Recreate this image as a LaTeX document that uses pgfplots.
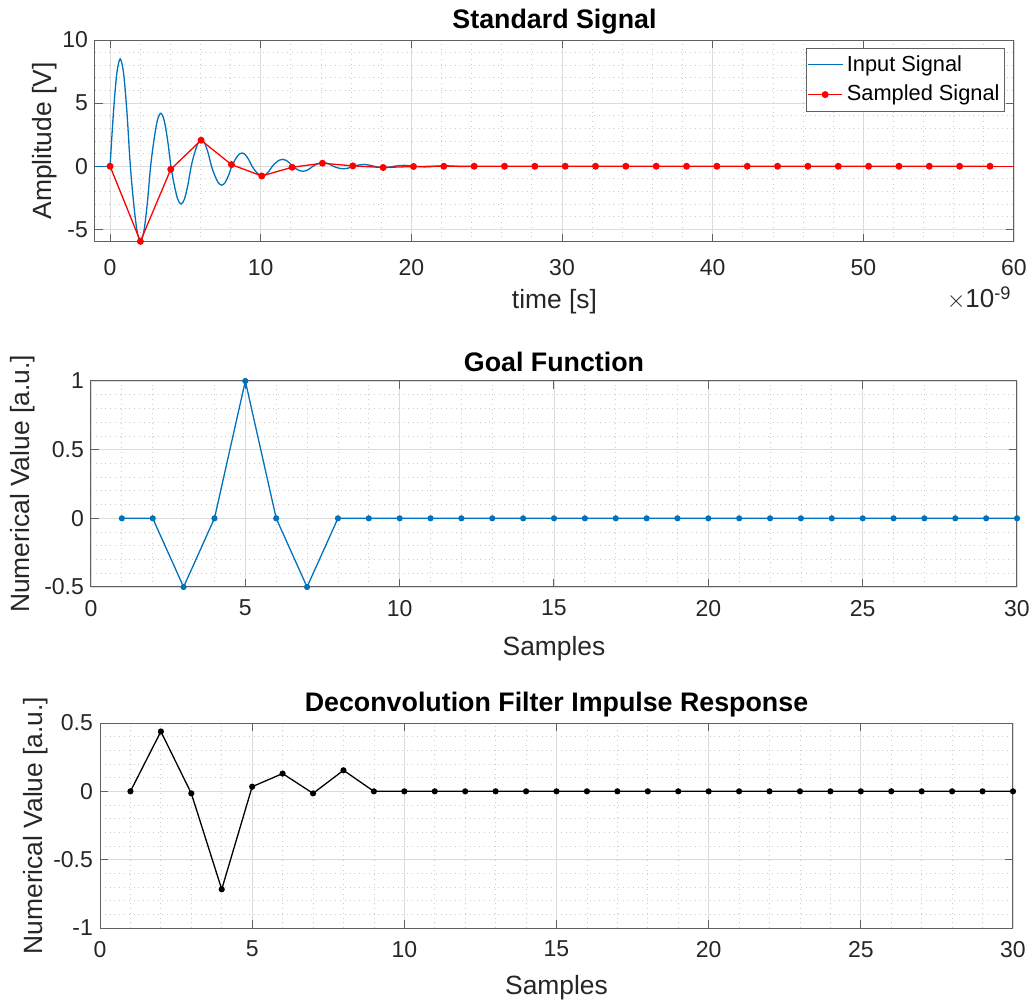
\documentclass[border=0pt]{standalone}
\usepackage{pgfplots}
\pgfplotsset{compat=1.18}
\usepackage{fontspec}
\setmainfont{Liberation Sans}
\definecolor{mblue}{rgb}{0,0.447,0.741}
\definecolor{axgray}{rgb}{0.38,0.38,0.38}
\definecolor{txt}{rgb}{0.15,0.15,0.15}
\pgfplotsset{
  mstyle/.style={
    scale only axis,
    axis line style={axgray, line width=0.5pt},
    every tick/.style={axgray, line width=0.5pt},
    major tick length=4pt,
    minor tick length=0pt,
    tick align=inside,
    xtick pos=both, ytick pos=both,
    grid=both,
    major grid style={black!14, line width=0.4pt},
    minor grid style={black!20, dotted, line width=0.4pt},
    ticklabel style={font=\fontsize{11.5}{13}\selectfont, text=txt},
    xlabel style={font=\fontsize{13.2}{15}\selectfont, text=txt},
    ylabel style={font=\fontsize{13.2}{15}\selectfont, text=txt},
    title style={font=\bfseries\fontsize{13.4}{15}\selectfont, text=black, yshift=-5pt},
    /pgf/number format/assume math mode=true,
    minor x tick num=4, minor y tick num=4,
  }
}
\begin{document}
\begin{tikzpicture}
% ---------- Top ----------
\begin{axis}[mstyle,
  at={(47.5pt,380.5pt)}, anchor=south west,
  width=459.5pt, height=101pt,
  xmin=-1, xmax=60, ymin=-6, ymax=10,
  xtick={0,10,...,60}, ytick={-5,0,5,10},
  clip=false,
  xticklabel style={yshift=-5pt},
  ylabel style={yshift=-4pt},
  title style={yshift=-1.5pt},
  title={Standard Signal},
  xlabel={time [s]}, ylabel={Amplitude [V]},
  legend style={at={(1,1)}, anchor=north east, xshift=-4.5pt, yshift=-4pt,
    draw=axgray, font=\fontsize{10.9}{12}\selectfont, inner xsep=0.5pt, inner ysep=1.5pt, row sep=1.5pt},
  legend cell align=left,
]
\addplot[mblue, line width=0.65pt, smooth, no marks] coordinates {
(0,0)(0.224,4.25)(0.449,7.36)(0.673,8.5)(0.898,7.36)(1.122,4.25)
(1.347,0)(1.571,-2.975)(1.796,-5.153)(2.02,-5.95)(2.244,-5.153)(2.469,-2.975)
(2.693,0)(2.918,2.1)(3.142,3.637)(3.367,4.2)(3.591,3.637)(3.816,2.1)
(4.04,0)(4.264,-1.5)(4.489,-2.598)(4.713,-3.0)(4.938,-2.598)(5.162,-1.5)
(5.387,0)(5.611,1.05)(5.836,1.819)(6.06,2.1)(6.284,1.819)(6.509,1.05)
(6.733,0)(6.958,-0.75)(7.182,-1.299)(7.407,-1.5)(7.631,-1.299)(7.856,-0.75)
(8.08,0)(8.304,0.525)(8.529,0.909)(8.753,1.05)(8.978,0.909)(9.202,0.525)
(9.427,0)(9.651,-0.385)(9.876,-0.667)(10.1,-0.77)(10.324,-0.667)(10.549,-0.385)
(10.773,0)(10.998,0.275)(11.222,0.476)(11.447,0.55)(11.671,0.476)(11.896,0.275)
(12.12,0)(12.344,-0.2)(12.569,-0.346)(12.793,-0.4)(13.018,-0.346)(13.242,-0.2)
(13.467,0)(13.691,0.145)(13.916,0.251)(14.14,0.29)(14.364,0.251)(14.589,0.145)
(14.813,0)(15.038,-0.1)(15.262,-0.173)(15.487,-0.2)(15.711,-0.173)(15.936,-0.1)
(16.16,0)(16.384,0.07)(16.609,0.121)(16.833,0.14)(17.058,0.121)(17.282,0.07)
(17.507,0)(17.731,-0.05)(17.956,-0.087)(18.18,-0.1)(18.404,-0.087)(18.629,-0.05)
(18.853,0)(19.078,0.035)(19.302,0.061)(19.527,0.07)(19.751,0.061)(19.976,0.035)
(20.2,0)(20.424,-0.025)(20.649,-0.043)(20.873,-0.05)(21.098,-0.043)(21.322,-0.025)
(21.547,0)(21.771,0.018)(21.996,0.03)(22.22,0.035)(22.444,0.03)(22.669,0.018)
(22.893,0)(23.118,-0.012)(23.342,-0.022)(23.567,-0.025)(23.791,-0.022)(24.016,-0.012)
(24.24,0)};
\addlegendentry{Input Signal}
\addplot[red, line width=0.65pt, mark=*, mark size=1.4pt] coordinates {
(0,0)(2.014,-5.95)(4.028,-0.24)(6.042,2.06)(8.056,0.13)(10.07,-0.77)
(12.084,-0.08)(14.098,0.24)(16.112,0.03)(18.126,-0.1)(20.14,-0.02)(22.154,0)
(24.168,0)(26.182,0)(28.196,0)(30.21,0)(32.224,0)(34.238,0)(36.252,0)(38.266,0)
(40.28,0)(42.294,0)(44.308,0)(46.322,0)(48.336,0)(50.35,0)(52.364,0)(54.378,0)
(56.392,0)(58.406,0)};
\addlegendentry{Sampled Signal}
\addplot[mblue, line width=0.65pt, no marks, forget plot] coordinates {(-1,0)(0,0)};
\addplot[red, line width=0.65pt, no marks, forget plot] coordinates {(58.406,0)(60,0)};
\node[anchor=base east, font=\fontsize{13}{15}\selectfont, text=txt, inner sep=0pt]
  at (rel axis cs:1,0) [yshift=-33pt, xshift=-1pt] {$\times$10\textsuperscript{-9}};
\end{axis}
% ---------- Middle ----------
\begin{axis}[mstyle,
  at={(45.5pt,208pt)}, anchor=south west,
  width=463pt, height=103pt,
  xmin=0, xmax=30, ymin=-0.5, ymax=1,
  xtick={0,5,...,30}, ytick={-0.5,0,0.5,1},
  xticklabel style={yshift=-3pt},
  xlabel style={yshift=-3pt},
  ylabel style={yshift=-2pt},
  title={Goal Function},
  xlabel={Samples}, ylabel={Numerical Value [a.u.]},
]
\addplot[mblue, line width=0.65pt, mark=*, mark size=1.2pt] coordinates {
(1,0)(2,0)(3,-0.5)(4,0)(5,1)(6,0)(7,-0.5)(8,0)(9,0)(10,0)(11,0)(12,0)(13,0)(14,0)(15,0)
(16,0)(17,0)(18,0)(19,0)(20,0)(21,0)(22,0)(23,0)(24,0)(25,0)(26,0)(27,0)(28,0)(29,0)(30,0)};
\end{axis}
% ---------- Bottom ----------
\begin{axis}[mstyle,
  at={(50pt,37.5pt)}, anchor=south west,
  width=456.5pt, height=102.5pt,
  xmin=0, xmax=30, ymin=-1, ymax=0.5,
  xtick={0,5,...,30}, ytick={-1,-0.5,0,0.5},
  xticklabel style={yshift=-3pt},
  xlabel style={yshift=-2pt},
  ylabel style={yshift=-4pt},
  title style={yshift=-1.5pt},
  title={Deconvolution Filter Impulse Response},
  xlabel={Samples}, ylabel={Numerical Value [a.u.]},
]
\addplot[black, line width=0.65pt, mark=*, mark size=1.2pt] coordinates {
(1,0)(2,0.438)(3,-0.015)(4,-0.717)(5,0.034)(6,0.13)(7,-0.015)(8,0.154)(9,0)(10,0)(11,0)
(12,0)(13,0)(14,0)(15,0)(16,0)(17,0)(18,0)(19,0)(20,0)(21,0)(22,0)(23,0)(24,0)(25,0)
(26,0)(27,0)(28,0)(29,0)(30,0)};
\end{axis}
\pgfresetboundingbox
\path[use as bounding box] (0,0) rectangle (517.5pt,501.5pt);
\end{tikzpicture}
\end{document}
